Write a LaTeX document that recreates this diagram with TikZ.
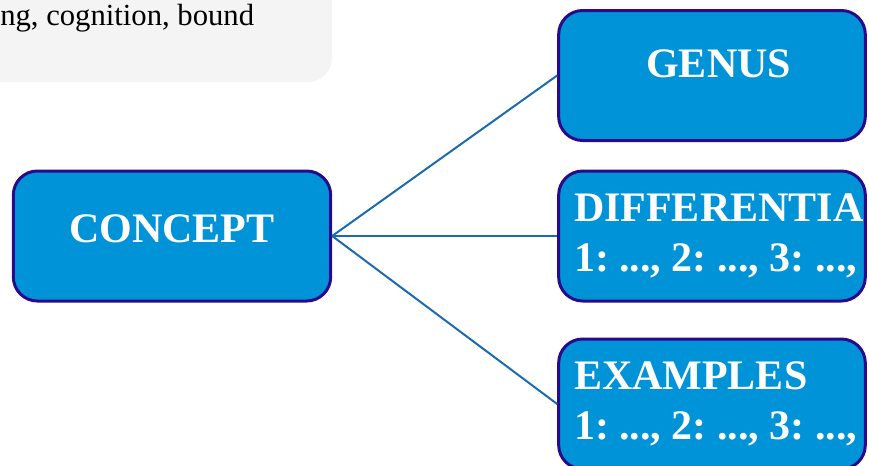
\documentclass[tikz,border=0pt]{standalone}
\usepackage{fontspec}
\setmainfont{Liberation Serif}
\usetikzlibrary{positioning}
\frenchspacing

\definecolor{boxblue}{RGB}{0,147,215}
\definecolor{boxline}{RGB}{42,10,140}
\definecolor{linkblue}{RGB}{28,106,176}
\definecolor{notegray}{RGB}{244,244,244}

% one line of a list box, fixed width so the text starts at the same inset
\newcommand\listline[1]{\makebox[207pt][l]{#1}}

\tikzset{
  termbox/.style={draw=boxline, line width=2.25pt, fill=boxblue, rounded corners=18pt,
    text=white, font=\fontsize{31.5}{36}\selectfont\bfseries,
    minimum width=230pt, minimum height=97.5pt, inner sep=0pt},
  listbox/.style={termbox, align=left, font=\fontsize{31.5}{37}\selectfont\bfseries},
  link/.style={draw=linkblue, line width=1.5pt}
}

\begin{document}
\begin{tikzpicture}[x=0.75pt, y=-0.75pt]
\useasboundingbox (0,0) rectangle (869,465);
\clip (0,0) rectangle (869,465);

% grey note in the corner
\fill[notegray, rounded corners=18pt] (-40,-40) rectangle (332,82);
\node[anchor=base west, inner sep=0pt, font=\fontsize{23}{28}\selectfont] (note) at (0,25) {ng, cognition, bound};

% concept and its parts
\node[termbox, minimum width=238pt, text height=22pt, text depth=13pt] (concept) at (172,236) {CONCEPT};
\node[termbox, text height=22pt, text depth=19.75pt] (genus) at (712,75.5) {\hspace*{10pt}GENUS};
\node[listbox] (diff) at (712,236) {\listline{DIFFERENTIA}\\\listline{1: ..., 2: ..., 3: ...,}};
\node[listbox] (examples) at (712,404) {\listline{EXAMPLES}\\\listline{1: ..., 2: ..., 3: ...,}};

% links
\draw[link] (concept.east) -- (genus.west);
\draw[link] (concept.east) -- (diff.west);
\draw[link] (concept.east) -- (examples.west);
\end{tikzpicture}
\end{document}
